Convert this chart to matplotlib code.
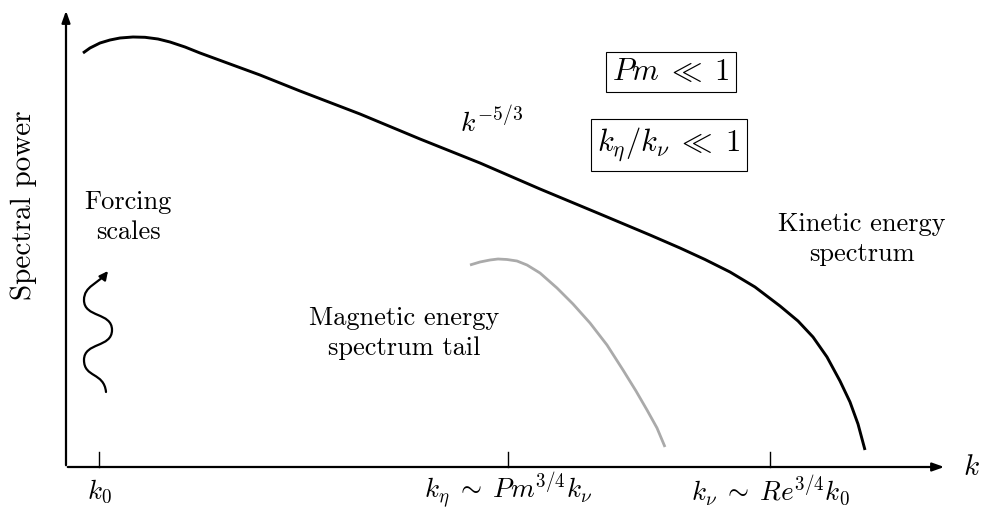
import matplotlib
matplotlib.use("Agg")
import matplotlib.pyplot as plt
from matplotlib.path import Path
from matplotlib.patches import FancyArrowPatch

plt.rcParams['font.family'] = 'serif'
plt.rcParams['font.serif'] = ['cmr10', 'DejaVu Serif']
plt.rcParams['mathtext.fontset'] = 'cm'
plt.rcParams['axes.unicode_minus'] = False

# schematic curves, in picture coordinates (x right, y down)
kin_x = [83, 90, 100, 110, 120, 133, 145, 158, 170, 185, 200, 230, 260, 300, 360, 420,
         480, 540, 600, 650, 680, 705, 730, 755, 780, 798, 813, 827, 840, 850, 858, 865]
kin_y = [53, 48, 43, 40, 38, 37, 37.3, 39, 42, 47, 53, 64, 75, 91, 114, 139,
         163, 189, 214, 235, 248, 259.5, 272, 287, 306, 321, 337, 357, 381, 402, 424, 450]
mag_x = [470, 480, 490, 498, 507, 517, 527, 540, 557, 573, 590, 607, 623, 636, 647, 657, 665]
mag_y = [265, 262, 260, 259, 259.5, 261, 265, 273, 288, 304, 323, 345, 370, 391, 410, 428, 447]

tick_x = [99, 508, 770]
tick_labels = [r'$k_0$', r'$k_\eta \;\sim\; Pm^{3/4}k_\nu$', r'$k_\nu \;\sim\; Re^{3/4}k_0$']

fig = plt.figure(figsize=(9.83, 5.11), dpi=100)
ax = fig.add_axes([0, 0, 1, 1])
ax.set_xlim(0, 983)
ax.set_ylim(511, 0)
ax.axis('off')

# axes arrows
ax.annotate('', xy=(947, 467), xytext=(65, 467),
            arrowprops=dict(arrowstyle='-|>,head_length=0.7,head_width=0.25', lw=1.6, color='black'))
ax.annotate('', xy=(66, 8), xytext=(66, 468),
            arrowprops=dict(arrowstyle='-|>,head_length=0.7,head_width=0.25', lw=1.6, color='black'))

for tx, tl in zip(tick_x, tick_labels):
    ax.plot([tx, tx], [452, 467], color='black', lw=1.0)
    ax.text(tx, 491, tl, fontsize=19.5, ha='center', va='center')

ax.text(971, 468, r'$k$', fontsize=21, ha='center', va='center')
ax.text(24, 205, 'Spectral power', fontsize=21, rotation=90, ha='center', va='center')

ax.plot(kin_x, kin_y, color='black', lw=2.1, solid_capstyle='butt')
ax.plot(mag_x, mag_y, color='#aaaaaa', lw=2.0, solid_capstyle='butt')

ax.text(492, 122, r'$k^{-5/3}$', fontsize=20, ha='center', va='center')
ax.text(128, 217, 'Forcing\nscales', fontsize=19, ha='center', va='center', linespacing=1.3)
ax.text(862, 239, 'Kinetic energy\nspectrum', fontsize=19, ha='center', va='center', linespacing=1.3)
ax.text(404, 333, 'Magnetic energy\nspectrum tail', fontsize=19, ha='center', va='center', linespacing=1.3)

box = dict(boxstyle='square,pad=0.2', fc='white', ec='black', lw=0.8)
ax.text(671, 72, r'$Pm \;\ll\; 1$', fontsize=22, ha='center', va='center', bbox=box)
ax.text(669, 145, r'$k_\eta/k_\nu \;\ll\; 1$', fontsize=22, ha='center', va='center', bbox=box)

# wavy forcing arrow
verts = [(106, 392), (104, 372), (84, 378), (84, 360),
         (84, 342), (112, 348), (112, 330),
         (112, 312), (84, 318), (84, 300),
         (84, 286), (98, 284), (108, 271)]
codes = [Path.MOVETO] + [Path.CURVE4] * 12
arr = FancyArrowPatch(path=Path(verts, codes),
                      arrowstyle='-|>,head_length=5,head_width=2.5', lw=1.6, color='black')
ax.add_patch(arr)

fig.savefig('out.png', dpi=100)
